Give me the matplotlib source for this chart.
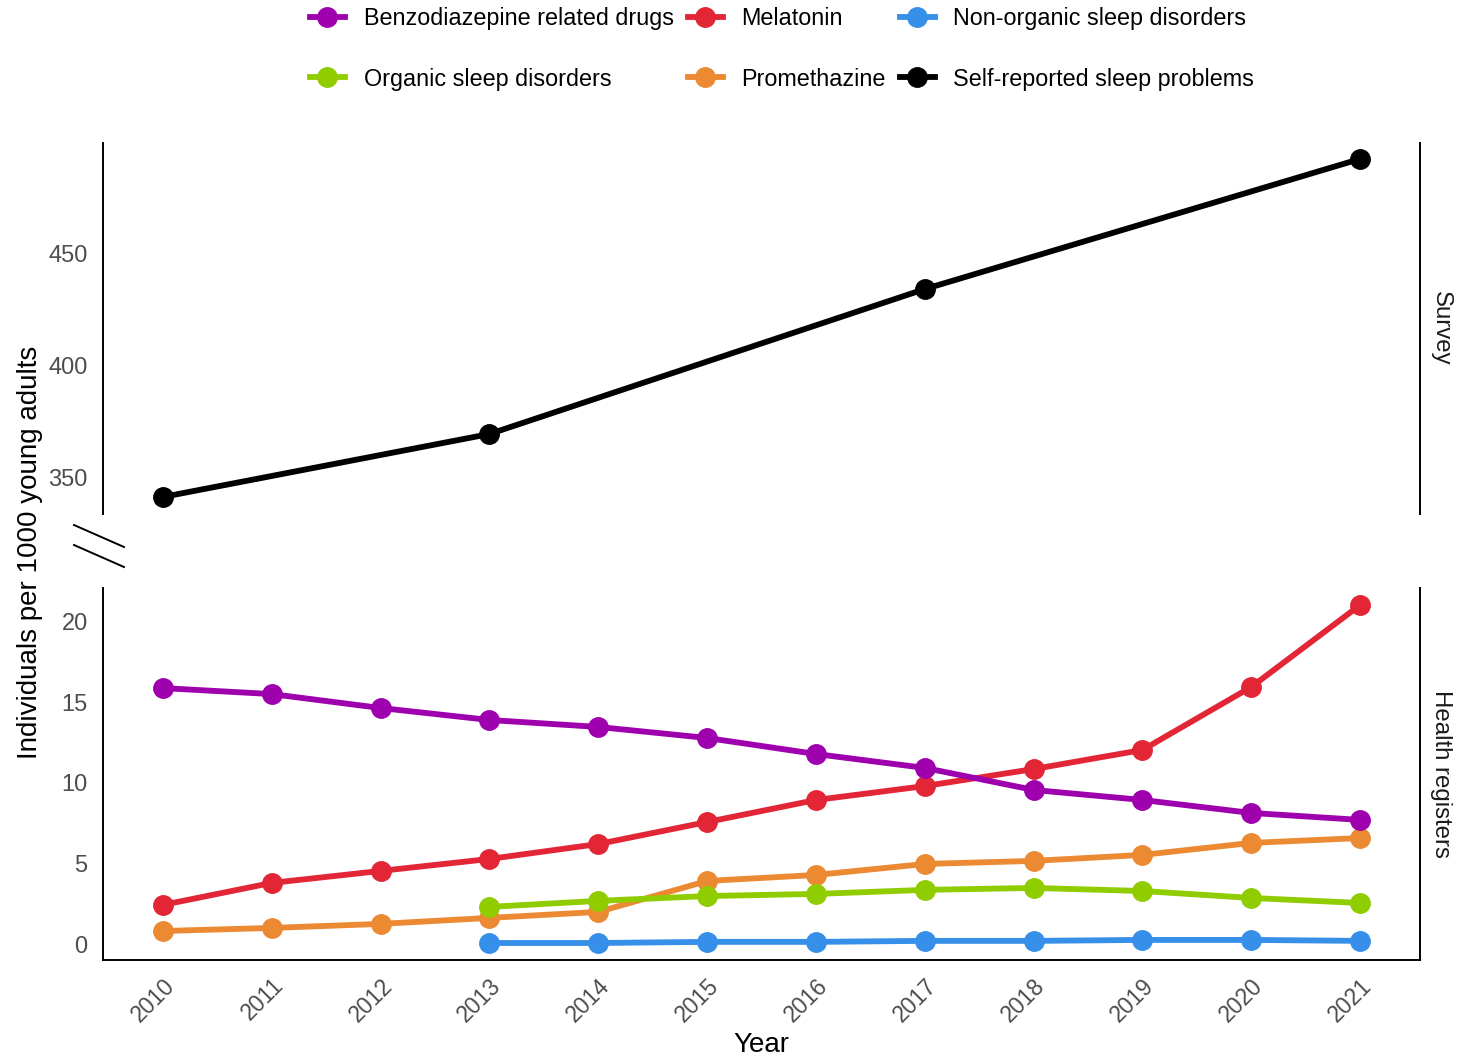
import matplotlib.pyplot as plt
from matplotlib.lines import Line2D

plt.rcParams['font.family'] = ['Liberation Sans', 'DejaVu Sans']

years = list(range(2010, 2022))
years_from_2013 = list(range(2013, 2022))

benzo = [15.86, 15.49, 14.63, 13.89, 13.46, 12.78, 11.79, 10.93, 9.57, 8.95, 8.15, 7.72]
melatonin = [2.47, 3.83, 4.57, 5.31, 6.23, 7.59, 8.95, 9.81, 10.86, 12.04, 15.93, 20.99]
promethazine = [0.86, 1.05, 1.30, 1.67, 2.04, 3.95, 4.32, 5.00, 5.19, 5.56, 6.30, 6.60]
organic = [2.35, 2.72, 3.02, 3.15, 3.40, 3.52, 3.33, 2.90, 2.59]
non_organic = [0.12, 0.12, 0.19, 0.19, 0.25, 0.25, 0.31, 0.31, 0.25]

survey_years = [2010, 2013, 2017, 2021]
self_reported = [341.1, 369.2, 433.9, 492.0]

colors = {
    'Benzodiazepine related drugs': '#9E00AE',
    'Melatonin': '#E32636',
    'Non-organic sleep disorders': '#368FE8',
    'Organic sleep disorders': '#8FCC00',
    'Promethazine': '#EB8A33',
    'Self-reported sleep problems': '#000000',
}

fig = plt.figure(figsize=(14.58, 10.56), dpi=100)
left, right = 103 / 1458, 1420 / 1458
ax_top = fig.add_axes([left, 1 - 514 / 1056, right - left, (514 - 143) / 1056])
ax_bot = fig.add_axes([left, 1 - 960 / 1056, right - left, (960 - 588) / 1056])

lw, ms = 4.2, 14
style = dict(lw=lw, marker='o', ms=ms, solid_capstyle='butt')

ax_top.plot(survey_years, self_reported, color=colors['Self-reported sleep problems'], **style)

series = [
    ('Promethazine', years, promethazine),
    ('Non-organic sleep disorders', years_from_2013, non_organic),
    ('Organic sleep disorders', years_from_2013, organic),
    ('Melatonin', years, melatonin),
    ('Benzodiazepine related drugs', years, benzo),
]
for name, xs, ys in series:
    ax_bot.plot(xs, ys, color=colors[name], **style)

xlim = (2009.45, 2021.55)
for ax in (ax_top, ax_bot):
    ax.set_xlim(*xlim)
    ax.set_facecolor('none')
    ax.spines['top'].set_visible(False)
    for s in ('left', 'right', 'bottom'):
        ax.spines[s].set_linewidth(1.4)
    ax.tick_params(axis='y', length=0, labelsize=17, labelcolor='#4D4D4D', pad=11)

ax_top.set_ylim(333.5, 499.1)
ax_top.set_yticks([350, 400, 450])
ax_top.spines['bottom'].set_visible(False)
ax_top.set_xticks([])

ax_bot.set_ylim(-0.93, 22.04)
ax_bot.set_yticks([0, 5, 10, 15, 20])
ax_bot.set_xticks(years)
ax_bot.set_xticklabels([str(y) for y in years], rotation=45, ha='right',
                       rotation_mode='anchor', fontsize=16.5, color='#4D4D4D')
ax_bot.tick_params(axis='x', length=0, pad=10)
ax_bot.set_xlabel('Year', fontsize=20, labelpad=4)

# facet strip labels on the right
ax_top.text(1.016, 0.5, 'Survey', transform=ax_top.transAxes, rotation=-90,
            ha='center', va='center', fontsize=17.3, color='#1A1A1A')
ax_bot.text(1.016, 0.5, 'Health registers', transform=ax_bot.transAxes, rotation=-90,
            ha='center', va='center', fontsize=17.3, color='#1A1A1A')

fig.text(30 / 1458, 1 - 552 / 1056, 'Individuals per 1000 young adults', rotation=90,
         ha='center', va='center', fontsize=20)

# axis break marks
for y0 in (525, 545):
    fig.add_artist(Line2D([74 / 1458, 124 / 1458], [1 - y0 / 1056, 1 - (y0 + 22) / 1056],
                          color='black', lw=1.4))

order = ['Benzodiazepine related drugs', 'Organic sleep disorders', 'Melatonin',
         'Promethazine', 'Non-organic sleep disorders', 'Self-reported sleep problems']
handles = [Line2D([], [], color=colors[n], lw=lw, marker='o', ms=ms) for n in order]
fig.legend(handles, order, loc='center', bbox_to_anchor=(782 / 1458, 1 - 49 / 1056),
           ncol=3, frameon=False, fontsize=16.8, handlelength=1.5, handletextpad=0.8,
           columnspacing=0.6, labelspacing=1.6)

fig.savefig('out.png', dpi=100)
